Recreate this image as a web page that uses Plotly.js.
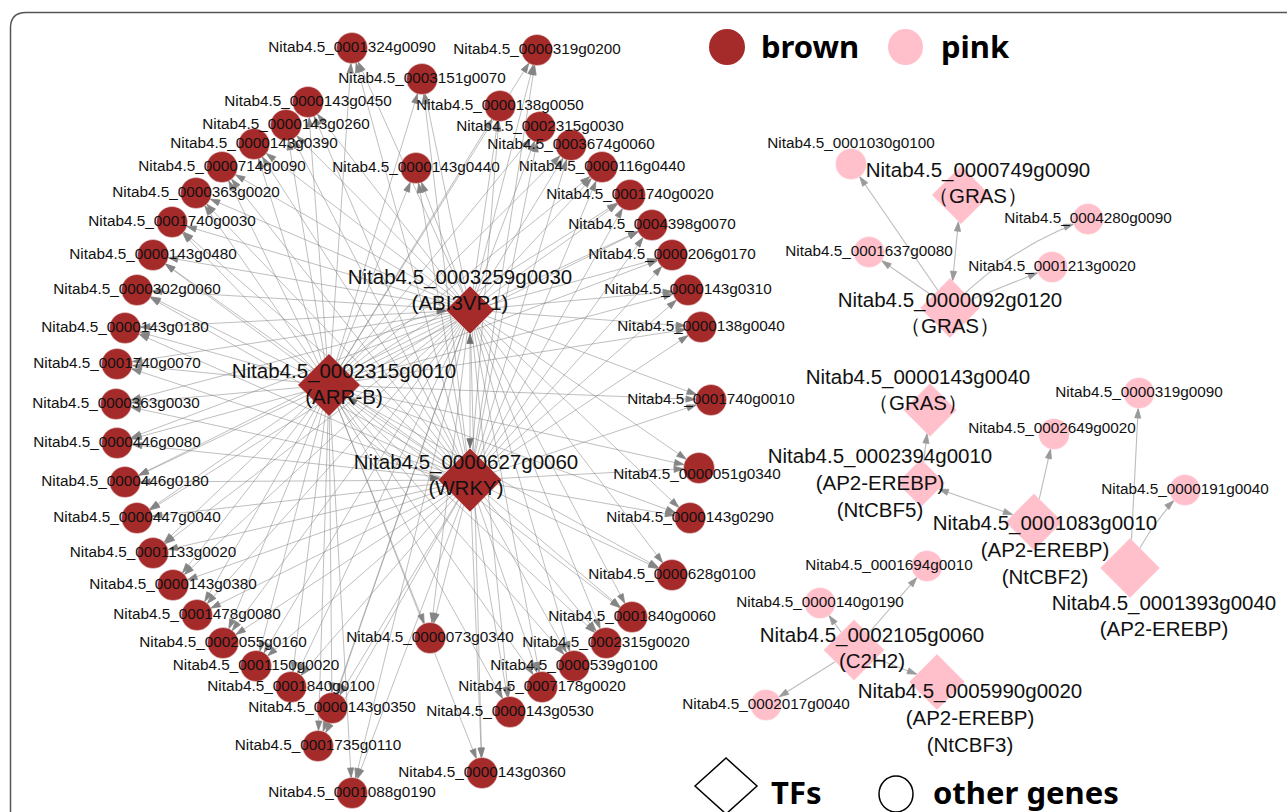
<!DOCTYPE html>
<html><head><meta charset="utf-8">
<script src="https://cdn.plot.ly/plotly-3.0.1.min.js"></script>
<style>html,body{margin:0;padding:0;background:#fff}#chart{width:1287px;height:812px}</style>
</head><body><div id="chart"></div>
<script>
// ---------------- DATA ----------------
// brown module: other genes (network layout coordinates)
const brownGenes = [
 "Nitab4.5_0001324g0090","Nitab4.5_0000319g0200","Nitab4.5_0003151g0070","Nitab4.5_0000143g0450",
 "Nitab4.5_0000138g0050","Nitab4.5_0000143g0260","Nitab4.5_0002315g0030","Nitab4.5_0000143g0390",
 "Nitab4.5_0003674g0060","Nitab4.5_0000714g0090","Nitab4.5_0000116g0440","Nitab4.5_0000143g0440",
 "Nitab4.5_0000363g0020","Nitab4.5_0001740g0020","Nitab4.5_0001740g0030","Nitab4.5_0004398g0070",
 "Nitab4.5_0000143g0480","Nitab4.5_0000206g0170","Nitab4.5_0000302g0060","Nitab4.5_0000143g0310",
 "Nitab4.5_0000143g0180","Nitab4.5_0000138g0040","Nitab4.5_0001740g0070","Nitab4.5_0001740g0010",
 "Nitab4.5_0000363g0030","Nitab4.5_0000446g0080","Nitab4.5_0000051g0340","Nitab4.5_0000446g0180",
 "Nitab4.5_0000143g0290","Nitab4.5_0000447g0040","Nitab4.5_0001133g0020","Nitab4.5_0000628g0100",
 "Nitab4.5_0000143g0380","Nitab4.5_0001478g0080","Nitab4.5_0001840g0060","Nitab4.5_0002055g0160",
 "Nitab4.5_0000073g0340","Nitab4.5_0002315g0020","Nitab4.5_0001150g0020","Nitab4.5_0000539g0100",
 "Nitab4.5_0001840g0100","Nitab4.5_0007178g0020","Nitab4.5_0000143g0350","Nitab4.5_0000143g0530",
 "Nitab4.5_0001735g0110","Nitab4.5_0000143g0360","Nitab4.5_0001088g0190"];
const brownGeneX = [352,537,422,308,500,286,540,254,571,222,602,416,196,630,172,652,153,672,137,688,
 125,701,117,711,116,117,699,125,690,137,153,672,173,197,632,223,430,606,256,574,291,542,332,510,318,482,352];
const brownGeneY = [48,50,79,102,106,125,127,144,145,167,167,168,193,195,222,225,255,255,290,290,
 328,327,364,400,404,443,468,482,518,518,553,575,585,615,617,643,638,643,666,666,687,687,708,712,746,773,793];

// brown module: transcription factors
const brownTFs = ["Nitab4.5_0003259g0030","Nitab4.5_0002315g0010","Nitab4.5_0000627g0060"];
const brownTFFamily = ["(ABI3VP1)","(ARR-B)","(WRKY)"];
const brownTFX = [470,329,470];
const brownTFY = [310,385,480];

// pink module: other genes
const pinkGenes = ["Nitab4.5_0001030g0100","Nitab4.5_0004280g0090","Nitab4.5_0001637g0080","Nitab4.5_0001213g0020",
 "Nitab4.5_0000319g0090","Nitab4.5_0002649g0020","Nitab4.5_0000191g0040","Nitab4.5_0001694g0010",
 "Nitab4.5_0000140g0190","Nitab4.5_0002017g0040"];
const pinkGeneX = [851,1088,869,1052,1139,1054,1185,927,820,766];
const pinkGeneY = [164,219,252,267,393,434,490,566,603,705];

// pink module: transcription factors
const pinkTFs = ["Nitab4.5_0000749g0090","Nitab4.5_0000092g0120","Nitab4.5_0000143g0040","Nitab4.5_0002394g0010",
 "Nitab4.5_0001083g0010","Nitab4.5_0001393g0040","Nitab4.5_0002105g0060","Nitab4.5_0005990g0020"];
const pinkTFFamily = ["（GRAS）","（GRAS）","（GRAS）","(AP2-EREBP)<br>(NtCBF5)",
 "(AP2-EREBP)<br>(NtCBF2)","(AP2-EREBP)","(C2H2)","(AP2-EREBP)<br>(NtCBF3)"];
const pinkTFX = [961,950,930,921,1034,1130,854,937];
const pinkTFY = [195,308,410,483,522,568,650,682];

// regulatory edges (source -> target); "both" = arrows at both ends
const brownTFTargets = brownGenes; // each brown TF regulates each brown gene
const tfEdgeSource = ["Nitab4.5_0003259g0030","Nitab4.5_0000627g0060","Nitab4.5_0002315g0010","Nitab4.5_0002315g0010"];
const tfEdgeTarget = ["Nitab4.5_0000627g0060","Nitab4.5_0002315g0010","Nitab4.5_0003259g0030","Nitab4.5_0000627g0060"];
const tfEdgeBoth   = [true,false,false,false];

const pinkEdgeSource = ["Nitab4.5_0000092g0120","Nitab4.5_0000092g0120","Nitab4.5_0000092g0120","Nitab4.5_0000092g0120",
 "Nitab4.5_0000092g0120","Nitab4.5_0002394g0010","Nitab4.5_0002394g0010","Nitab4.5_0001083g0010",
 "Nitab4.5_0001393g0040","Nitab4.5_0001393g0040","Nitab4.5_0002105g0060","Nitab4.5_0002105g0060",
 "Nitab4.5_0002105g0060","Nitab4.5_0002105g0060"];
const pinkEdgeTarget = ["Nitab4.5_0001030g0100","Nitab4.5_0001637g0080","Nitab4.5_0000749g0090","Nitab4.5_0004280g0090",
 "Nitab4.5_0001213g0020","Nitab4.5_0000143g0040","Nitab4.5_0001083g0010","Nitab4.5_0002649g0020",
 "Nitab4.5_0000319g0090","Nitab4.5_0000191g0040","Nitab4.5_0001694g0010","Nitab4.5_0000140g0190",
 "Nitab4.5_0002017g0040","Nitab4.5_0005990g0020"];
const pinkEdgeBoth = [false,false,true,false,false,false,true,false,false,false,false,false,false,false];

// ---------------- STYLE ----------------
const BROWN = '#A52A2A', PINK = '#FFC0CB';
const FONT = 'Liberation Sans, Arial, sans-serif';
const CIRCLE_SIZE = 31;
const diamondSize = {
 "Nitab4.5_0003259g0030":37,"Nitab4.5_0002315g0010":48,"Nitab4.5_0000627g0060":49,
 "Nitab4.5_0000749g0090":45,"Nitab4.5_0000092g0120":46,"Nitab4.5_0000143g0040":41,"Nitab4.5_0002394g0010":37,
 "Nitab4.5_0001083g0010":44,"Nitab4.5_0001393g0040":46,"Nitab4.5_0002105g0060":47,"Nitab4.5_0005990g0020":43};
const labelOffset = { // pixel offset of label block from node centre
 "Nitab4.5_0003259g0030":[-10,-18],"Nitab4.5_0002315g0010":[15,1],"Nitab4.5_0000627g0060":[-4,-3],
 "Nitab4.5_0000749g0090":[17,-10],"Nitab4.5_0000092g0120":[0,7],"Nitab4.5_0000143g0040":[-12,-18],
 "Nitab4.5_0002394g0010":[-41,2],"Nitab4.5_0001083g0010":[11,30],"Nitab4.5_0001393g0040":[34,50],
 "Nitab4.5_0002105g0060":[18,0],"Nitab4.5_0005990g0020":[33,38],
 "Nitab4.5_0001030g0100":[0,-20],"Nitab4.5_0002649g0020":[-2,-5],"Nitab4.5_0001694g0010":[-38,0],
 "Nitab4.5_0000051g0340":[-2,7]};
const edgeBend = {"Nitab4.5_0002315g0010>Nitab4.5_0003259g0030":-0.25,
 "Nitab4.5_0002315g0010>Nitab4.5_0000627g0060":0.3,
 "Nitab4.5_0000092g0120>Nitab4.5_0004280g0090":-0.12,
 "Nitab4.5_0001393g0040>Nitab4.5_0000191g0040":-0.1};

// ---------------- BUILD ----------------
const nodes = {};
function reg(names, xs, ys, isTF, color, fam){
  names.forEach((n,i)=>{ nodes[n] = {x:xs[i], y:ys[i], tf:isTF, color, fam: fam?fam[i]:null,
     size: isTF ? diamondSize[n] : CIRCLE_SIZE}; });
}
reg(brownGenes, brownGeneX, brownGeneY, false, BROWN);
reg(brownTFs, brownTFX, brownTFY, true, BROWN, brownTFFamily);
reg(pinkGenes, pinkGeneX, pinkGeneY, false, PINK);
reg(pinkTFs, pinkTFX, pinkTFY, true, PINK, pinkTFFamily);

function boundary(node, ux, uy){
  if(!node.tf) return node.size/2;
  const a = 0.65*node.size;
  return a/(Math.abs(ux)+Math.abs(uy));
}
function buildEdge(s, t, both){
  const S = nodes[s], T = nodes[t];
  const bend = edgeBend[s+'>'+t] || 0;
  const dx = T.x-S.x, dy = T.y-S.y;
  let pts = [];
  let cx = (S.x+T.x)/2, cy = (S.y+T.y)/2;
  if(bend){ cx += -dy*bend; cy += dx*bend; }
  const N = bend ? 30 : 1;
  for(let k=0;k<=N;k++){
    const u = k/N;
    pts.push([(1-u)*(1-u)*S.x + 2*(1-u)*u*cx + u*u*T.x, (1-u)*(1-u)*S.y + 2*(1-u)*u*cy + u*u*T.y]);
  }
  let ex = T.x - (bend?cx:S.x), ey = T.y - (bend?cy:S.y); let el = Math.hypot(ex,ey); ex/=el; ey/=el;
  const bt = boundary(T, ex, ey);
  const tip = [T.x-ex*bt, T.y-ey*bt];
  pts = pts.filter(p=>Math.hypot(p[0]-T.x,p[1]-T.y) > bt); pts.push(tip);
  const arrows = [{x:tip[0], y:tip[1], a: Math.atan2(ex,-ey)*180/Math.PI}];
  if(both){
    let sx = S.x - (bend?cx:T.x), sy = S.y - (bend?cy:T.y); let sl=Math.hypot(sx,sy); sx/=sl; sy/=sl;
    const bs = boundary(S, sx, sy);
    const tip2 = [S.x-sx*bs, S.y-sy*bs];
    pts = pts.filter(p=>Math.hypot(p[0]-S.x,p[1]-S.y) > bs); pts.unshift(tip2);
    arrows.push({x:tip2[0], y:tip2[1], a: Math.atan2(sx,-sy)*180/Math.PI});
  }
  return {pts, arrows};
}

const bEx=[], bEy=[], pEx=[], pEy=[], arX=[], arY=[], arA=[], arC=[];
function pushEdge(s,t,both,lx,ly,acol){
  const e = buildEdge(s,t,both);
  e.pts.forEach(p=>{lx.push(p[0]); ly.push(p[1]);}); lx.push(null); ly.push(null);
  e.arrows.forEach(a=>{arX.push(a.x); arY.push(a.y); arA.push(a.a); arC.push(acol);});
}
brownTFs.forEach(tf=>brownTFTargets.forEach(g=>pushEdge(tf,g,false,bEx,bEy,'#858585')));
tfEdgeSource.forEach((s,i)=>pushEdge(s,tfEdgeTarget[i],tfEdgeBoth[i],bEx,bEy,'#6e6e6e'));
pinkEdgeSource.forEach((s,i)=>pushEdge(s,pinkEdgeTarget[i],pinkEdgeBoth[i],pEx,pEy,'#9a9a9a'));

const traces = [];
traces.push({type:'scatter',mode:'lines',x:bEx,y:bEy,line:{color:'rgba(128,128,128,0.5)',width:1},hoverinfo:'skip'});
traces.push({type:'scatter',mode:'lines',x:pEx,y:pEy,line:{color:'rgba(160,160,160,0.7)',width:1.1},hoverinfo:'skip'});
traces.push({type:'scatter',mode:'markers',x:arX,y:arY,hoverinfo:'skip',
  marker:{symbol:'arrow',size:10,opacity:1,angle:arA,color:arC,line:{width:0.8,color:arC}}});

function nodeTrace(names, symbol, color){
  return {type:'scatter',mode:'markers',x:names.map(n=>nodes[n].x),y:names.map(n=>nodes[n].y),
    hoverinfo:'text',text:names,
    marker:{symbol, opacity:1, size:names.map(n=>nodes[n].size), color, line:{width:0.6,color:'rgba(255,255,255,0.6)'}}};
}
traces.push(nodeTrace(brownGenes,'circle',BROWN));
traces.push(nodeTrace(pinkGenes,'circle',PINK));
traces.push(nodeTrace(brownTFs,'diamond',BROWN));
traces.push(nodeTrace(pinkTFs,'diamond',PINK));

function labelTrace(names, size){
  return {type:'scatter',mode:'text',hoverinfo:'skip',
    x:names.map(n=>nodes[n].x+((labelOffset[n]||[0,0])[0])),
    y:names.map(n=>nodes[n].y+((labelOffset[n]||[0,0])[1])),
    text:names.map(n=>nodes[n].fam ? n+'<br>'+nodes[n].fam : n),
    textposition:'middle center', textfont:{family:FONT,size,color:'#111'}};
}
traces.push(labelTrace(brownGenes.concat(pinkGenes),15.3));
traces.push(labelTrace(brownTFs.concat(pinkTFs),20.5));

const LFONT = 'Noto Sans, Open Sans, sans-serif';
const layout = {
  width:1287,height:812,margin:{l:0,r:0,t:0,b:0},paper_bgcolor:'#fff',plot_bgcolor:'#fff',showlegend:false,
  xaxis:{range:[0,1287],visible:false,fixedrange:true},
  yaxis:{range:[812,0],visible:false,fixedrange:true},
  shapes:[
    {type:'path',xref:'x',yref:'y',path:'M 10.5 815 L 10.5 28 Q 10.5 12.5 26 12.5 L 1295 12.5',line:{color:'#555',width:1.5}},
    {type:'circle',xref:'x',yref:'y',x0:709,x1:745,y0:29,y1:65,fillcolor:BROWN,line:{width:0}},
    {type:'circle',xref:'x',yref:'y',x0:888,x1:923,y0:29,y1:65,fillcolor:PINK,line:{width:0}},
    {type:'path',xref:'x',yref:'y',path:'M 695 786 L 726 758 L 757 786 L 726 814 Z',line:{color:'#000',width:1.5}},
    {type:'circle',xref:'x',yref:'y',x0:879,x1:913,y0:776,y1:812,line:{color:'#000',width:1.5}}
  ],
  annotations:[
    {x:759,y:46,xref:'x',yref:'y',text:'<b>brown</b>',showarrow:false,xanchor:'left',yanchor:'middle',font:{family:LFONT,size:31,color:'#000'}},
    {x:939,y:46,xref:'x',yref:'y',text:'<b>pink</b>',showarrow:false,xanchor:'left',yanchor:'middle',font:{family:LFONT,size:31,color:'#000'}},
    {x:769,y:792,xref:'x',yref:'y',text:'<b>TFs</b>',showarrow:false,xanchor:'left',yanchor:'middle',font:{family:LFONT,size:31,color:'#000'}},
    {x:931,y:792,xref:'x',yref:'y',text:'<b>other genes</b>',showarrow:false,xanchor:'left',yanchor:'middle',font:{family:LFONT,size:31,color:'#000'}}
  ]
};
Plotly.newPlot('chart',traces,layout,{staticPlot:true,displayModeBar:false});
</script></body></html>
